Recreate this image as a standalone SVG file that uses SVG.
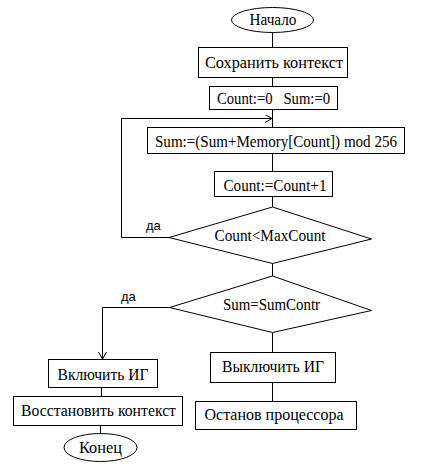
<svg xmlns="http://www.w3.org/2000/svg" width="421" height="468" viewBox="0 0 421 468">
<style>
.s{fill:#fff;stroke:#000;stroke-width:1}
.l{fill:none;stroke:#000;stroke-width:1}
.t{font-family:"Liberation Serif","Times New Roman",serif;font-size:16px;fill:#000;text-anchor:middle}
.y{font-family:"Liberation Sans",Arial,sans-serif;font-size:13px;fill:#000}
</style>
<defs>
<marker id="ar" markerUnits="userSpaceOnUse" markerWidth="10" markerHeight="10" refX="7" refY="4" orient="auto">
<path d="M0,0 L7,4 L0,8" fill="none" stroke="#000" stroke-width="1"/>
</marker>
</defs>
<rect width="421" height="468" fill="#fff"/>
<g id="connectors">
<path class="l" d="M272.5,32.5 V47.5"/>
<path class="l" d="M272.5,77.5 V86.5"/>
<path class="l" d="M272.5,109.5 V127.5"/>
<path class="l" d="M272.5,153.5 V171.5"/>
<path class="l" d="M272.5,196.5 V207"/>
<path class="l" d="M169,237.5 H121.5 V118.5 H272" marker-end="url(#ar)"/>
<path class="l" d="M272.5,263.5 V276"/>
<path class="l" d="M169.5,307.5 H102.5 V359" marker-end="url(#ar)"/>
<path class="l" d="M101.5,387.5 V396.5"/>
<path class="l" d="M100.5,425.5 V433.5"/>
<path class="l" d="M272.5,332.5 V352.5"/>
<path class="l" d="M272.5,382.5 V401.5"/>
<text class="y" x="146" y="230">да</text>
<text class="y" x="121" y="300.5">да</text>
</g>
<g id="start">
<ellipse class="s" cx="272.5" cy="20" rx="41" ry="12.5"/>
<text class="t" x="273" y="25" textLength="47" lengthAdjust="spacingAndGlyphs">Начало</text>
</g>
<g id="save">
<rect class="s" x="198.5" y="47.5" width="149" height="30"/>
<text class="t" x="274" y="67.5" textLength="138" lengthAdjust="spacingAndGlyphs">Сохранить контекст</text>
</g>
<g id="init">
<rect class="s" x="209.5" y="86.5" width="128" height="23"/>
<text class="t" x="273.5" y="103.5" textLength="113" lengthAdjust="spacingAndGlyphs" xml:space="preserve">Count:=0   Sum:=0</text>
</g>
<g id="sum">
<rect class="s" x="147.5" y="127.5" width="257" height="26"/>
<text class="t" x="276" y="146.5" textLength="242" lengthAdjust="spacingAndGlyphs">Sum:=(Sum+Memory[Count]) mod 256</text>
</g>
<g id="inc">
<rect class="s" x="214.5" y="171.5" width="118" height="25"/>
<text class="t" x="275" y="190.5" textLength="103" lengthAdjust="spacingAndGlyphs">Count:=Count+1</text>
</g>
<g id="cond1">
<polygon class="s" points="272.5,207 371.5,239 272.5,263.5 169,237.5"/>
<text class="t" x="270" y="241" textLength="111" lengthAdjust="spacingAndGlyphs">Count&lt;MaxCount</text>
</g>
<g id="cond2">
<polygon class="s" points="272.5,276 371.5,310.5 272.5,332.5 169.5,307.5"/>
<text class="t" x="271.5" y="310" textLength="97" lengthAdjust="spacingAndGlyphs">Sum=SumContr</text>
</g>
<g id="on">
<rect class="s" x="48.5" y="359.5" width="109" height="28"/>
<text class="t" x="103" y="380" textLength="91" lengthAdjust="spacingAndGlyphs">Включить ИГ</text>
</g>
<g id="restore">
<rect class="s" x="13.5" y="396.5" width="169" height="29"/>
<text class="t" x="98.5" y="416" textLength="155" lengthAdjust="spacingAndGlyphs">Восстановить контекст</text>
</g>
<g id="end">
<ellipse class="s" cx="100.5" cy="447.5" rx="36.5" ry="14"/>
<text class="t" x="100.5" y="452.5" textLength="43" lengthAdjust="spacingAndGlyphs">Конец</text>
</g>
<g id="off">
<rect class="s" x="210.5" y="352.5" width="125" height="30"/>
<text class="t" x="273" y="372" textLength="102" lengthAdjust="spacingAndGlyphs">Выключить ИГ</text>
</g>
<g id="halt">
<rect class="s" x="195.5" y="401.5" width="161" height="28"/>
<text class="t" x="274" y="420" textLength="139" lengthAdjust="spacingAndGlyphs">Останов процессора</text>
</g>
</svg>
